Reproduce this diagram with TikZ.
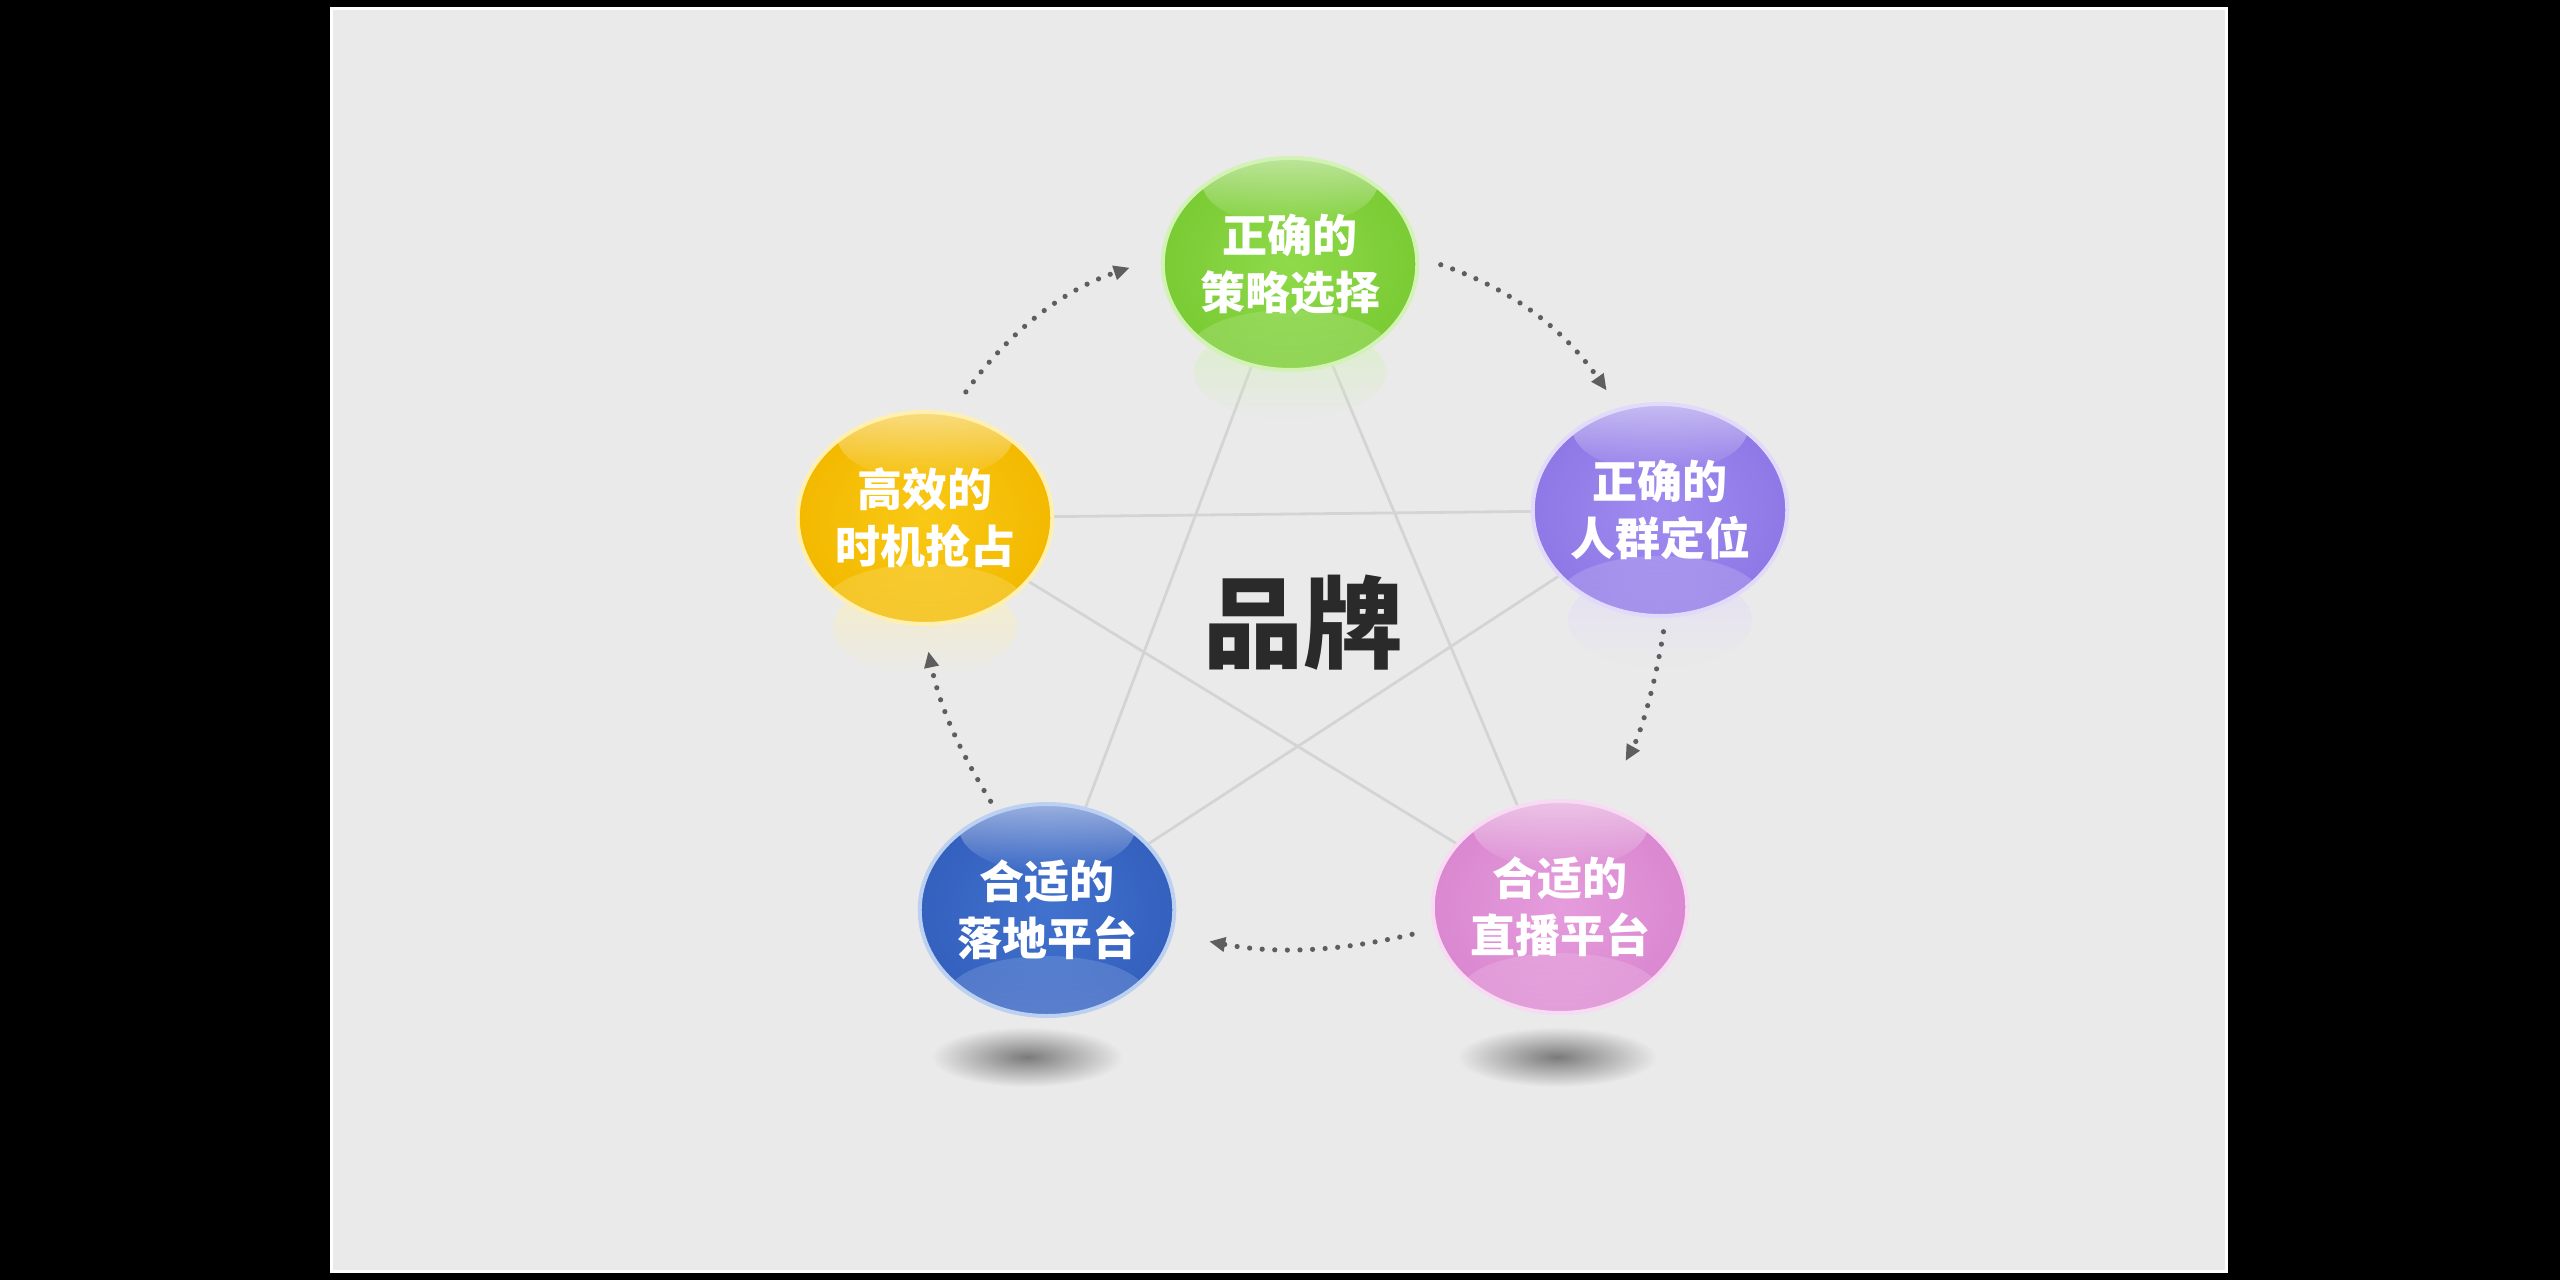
\documentclass[tikz,border=0pt]{standalone}
\usepackage{fontspec}
\newfontfamily\cjk{Noto Sans CJK SC}
\usetikzlibrary{shapes.geometric,fadings,arrows.meta}
\pgfdeclarelayer{back}
\pgfdeclarelayer{mid}
\pgfsetlayers{back,mid,main}
\definecolor{panelbg}{HTML}{EAEAEA}
\definecolor{starline}{HTML}{D4D4D4}
\definecolor{dotcol}{HTML}{5E5E5E}
\definecolor{brandtxt}{HTML}{2A2A2A}
\definecolor{Gmain}{HTML}{8FDA4A}
\definecolor{Gedge}{HTML}{7ACB34}
\definecolor{Glight}{HTML}{D2F2B6}
\definecolor{Pmain}{HTML}{A08CF0}
\definecolor{Pedge}{HTML}{8E78E6}
\definecolor{Plight}{HTML}{E2DAFA}
\definecolor{Ymain}{HTML}{F9C916}
\definecolor{Yedge}{HTML}{F3B900}
\definecolor{Ylight}{HTML}{FFF0B0}
\definecolor{Bmain}{HTML}{4172CE}
\definecolor{Bedge}{HTML}{3460BE}
\definecolor{Blight}{HTML}{BCD0F2}
\definecolor{Kmain}{HTML}{E59CDC}
\definecolor{Kedge}{HTML}{DA88D0}
\definecolor{Klight}{HTML}{F8DAF3}
\tikzset{
  ball/.style={ellipse, minimum width=120pt, minimum height=106pt, inner sep=0pt,
    text=white, align=center, font=\cjk\bfseries\fontsize{22.5}{28.5}\selectfont,
    inner color=#1main, outer color=#1edge,
    draw=#1light, line width=2pt,
    path picture={
      \fill[#1light, fill opacity=0.3, path fading=north]
        ([yshift=10pt]path picture bounding box.south) ellipse (50pt and 20pt);
      \fill[white, fill opacity=0.65, path fading=south]
        ([yshift=-12pt]path picture bounding box.north) ellipse (44pt and 22pt);
    }},
  reflect/.style={fill=#1light, fill opacity=0.6, path fading=south},
  floorshadow/.style={inner color=black!52, outer color=panelbg},
  star/.style={draw=starline, line width=1.4pt},
  dotarrow/.style={draw=dotcol, line width=2.6pt, line cap=round,
    dash pattern=on 0pt off 6.3pt,
    -{Triangle[length=8pt,width=7pt]}},
  brand/.style={font=\cjk\bfseries\fontsize{50}{60}\selectfont, text=brandtxt}
}
\begin{document}
\begin{tikzpicture}[x=0.5pt,y=-0.5pt]
\useasboundingbox (0,0) rectangle (2560,1280);
\begin{pgfonlayer}{back}
  \fill[black] (0,0) rectangle (2560,1280);
  \fill[white] (330,7) rectangle (2228,1273);
  \fill[panelbg] (333,10) rectangle (2225,1270);
\end{pgfonlayer}

\node[ball=G] (G) at (1290,264) {正确的\\策略选择};
\node[ball=P] (P) at (1660,510) {正确的\\人群定位};
\node[ball=Y] (Y) at (925,518) {高效的\\时机抢占};
\node[ball=B] (B) at (1047,910) {合适的\\落地平台};
\node[ball=K] (K) at (1560,907) {合适的\\直播平台};

\begin{pgfonlayer}{mid}
  \draw[star] (G.center) -- (B.center);
  \draw[star] (G.center) -- (K.center);
  \draw[star] (Y.center) -- (P.center);
  \draw[star] (Y.center) -- (K.center);
  \draw[star] (P.center) -- (B.center);
  \fill[reflect=G] (1290,372) ellipse (48pt and 24pt);
  \fill[reflect=Y] (925,628) ellipse (46pt and 24pt);
  \fill[reflect=P] (1660,620) ellipse (46pt and 24pt);
  \shade[floorshadow] (1027,1057) ellipse (48pt and 15pt);
  \shade[floorshadow] (1557,1057) ellipse (50pt and 15pt);
\end{pgfonlayer}

\node[brand] (brandtext) at (1303,623) {品牌};

\draw[dotarrow, shorten <=12.5pt, shorten >=16.5pt] (Y.76) to[bend left=18] (G.177);
\draw[dotarrow, shorten <=11.5pt, shorten >=10.5pt] (G.3) to[bend left=18] (P.112);
\draw[dotarrow, shorten <=7pt, shorten >=25pt] (P.273) to[bend left=10] (K.68);
\draw[dotarrow, shorten <=11pt, shorten >=18.5pt] (K.190) to[bend left=12] (B.349);
\draw[dotarrow, shorten <=5.5pt, shorten >=13pt] (B.117) to[bend left=10] (Y.269);
\end{tikzpicture}
\end{document}
